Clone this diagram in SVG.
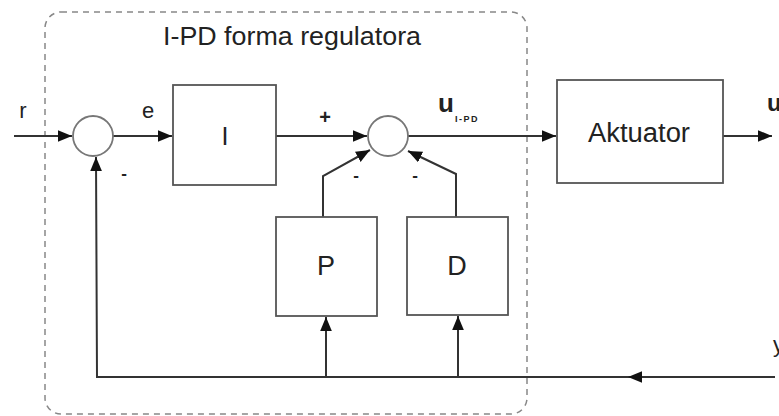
<svg xmlns="http://www.w3.org/2000/svg" width="779" height="416" viewBox="0 0 779 416">
<defs>
<style>
.box{fill:#fff;stroke:#555;stroke-width:1.8}
.sum{fill:#fff;stroke:#777;stroke-width:1.8}
.ln{fill:none;stroke:#333;stroke-width:2}
.t{font-family:"Liberation Sans",Arial,sans-serif;fill:#222}
</style>
<marker id="ah2" viewBox="0 0 12 10" refX="12" refY="5" markerWidth="14" markerHeight="12" markerUnits="userSpaceOnUse" orient="auto">
<path d="M0,0 L12,5 L0,10 z" fill="#111"/>
</marker>
</defs>
<rect width="779" height="416" fill="#fff"/>
<g id="frame">
<rect x="45" y="12" width="482" height="402" rx="16" fill="none" stroke="#888" stroke-width="1.5" stroke-dasharray="6,5"/>
<text class="t" x="163" y="45" font-size="25" fill="#333" textLength="258" lengthAdjust="spacingAndGlyphs">I-PD forma regulatora</text>
</g>
<g id="connectors">
<path class="ln" d="M14,136 L72,136" marker-end="url(#ah2)"/>
<path class="ln" d="M113,136 L172,136" marker-end="url(#ah2)"/>
<path class="ln" d="M276,136 L367,136" marker-end="url(#ah2)"/>
<path class="ln" d="M408,136 L556,136" marker-end="url(#ah2)"/>
<path class="ln" d="M723,136 L772,136" stroke-width="1.5" marker-end="url(#ah2)"/>
<path class="ln" d="M775,377 L97,377 L96,157" marker-end="url(#ah2)"/>
<path class="ln" d="M660,377 L628,377" marker-end="url(#ah2)"/>
<path class="ln" d="M326,377 L326,317" marker-end="url(#ah2)"/>
<path class="ln" d="M458,377 L458,316" marker-end="url(#ah2)"/>
<path class="ln" d="M323,217 L323,176 L370,150" marker-end="url(#ah2)"/>
<path class="ln" d="M456,217 L456,174 L408,151" marker-end="url(#ah2)"/>
</g>
<g id="sum1"><circle class="sum" cx="93" cy="136" r="20"/></g>
<g id="sum2"><circle class="sum" cx="388" cy="136" r="20"/></g>
<g id="I"><rect class="box" x="173" y="85" width="103" height="100"/><text class="t" x="225" y="145" font-size="25" text-anchor="middle">I</text></g>
<g id="P"><rect class="box" x="276" y="217" width="101" height="99"/><text class="t" x="326" y="275" font-size="27" text-anchor="middle">P</text></g>
<g id="D"><rect class="box" x="407" y="217" width="101" height="98"/><text class="t" x="457" y="275" font-size="27" text-anchor="middle">D</text></g>
<g id="Aktuator"><rect class="box" x="557" y="80" width="166" height="103"/><text class="t" x="639" y="142" font-size="27" text-anchor="middle" textLength="102" lengthAdjust="spacingAndGlyphs">Aktuator</text></g>
<g id="labels">
<text class="t" x="23" y="118" font-size="22" text-anchor="middle">r</text>
<text class="t" x="148" y="118" font-size="22" text-anchor="middle">e</text>
<text class="t" x="325" y="124" font-size="20" font-weight="bold" text-anchor="middle">+</text>
<text class="t" x="124" y="179" font-size="17" font-weight="bold" text-anchor="middle">-</text>
<text class="t" x="356" y="181" font-size="17" font-weight="bold" text-anchor="middle">-</text>
<text class="t" x="415" y="181" font-size="17" font-weight="bold" text-anchor="middle">-</text>
<text class="t" x="438" y="112" font-size="26" font-weight="bold">u</text>
<text class="t" x="455" y="122" font-size="9" font-weight="bold" letter-spacing="1.5" fill="#444">I-PD</text>
<text class="t" x="767" y="111" font-size="24" font-weight="bold">u</text>
<text class="t" x="773" y="352" font-size="22">y</text>
</g>
</svg>
